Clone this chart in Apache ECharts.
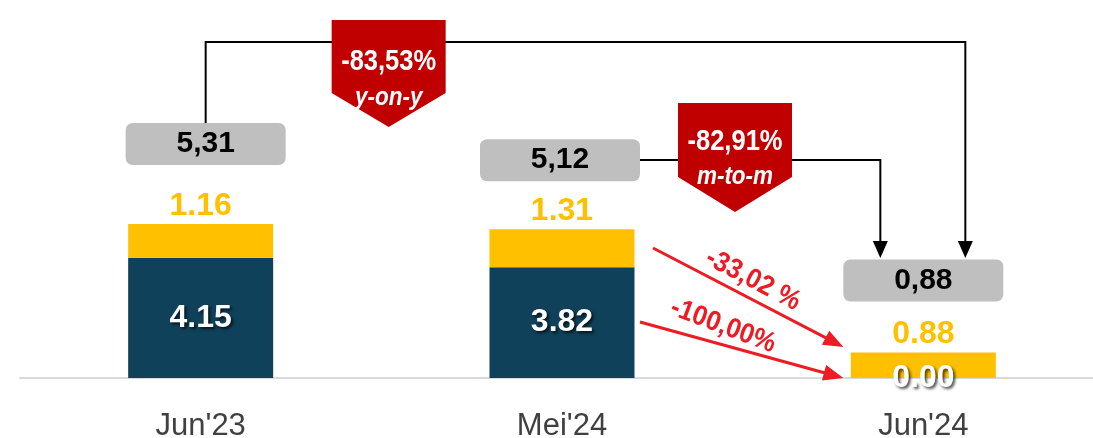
<!DOCTYPE html>
<html>
<head>
<meta charset="utf-8">
<script src="https://cdn.jsdelivr.net/npm/echarts@6/dist/echarts.min.js"></script>
<style>
  html, body { margin: 0; padding: 0; background: #fff; }
  #main { width: 1093px; height: 438px; }
</style>
</head>
<body>
<div id="main"></div>
<script>
// data
var categories = ["Jun'23", "Mei'24", "Jun'24"];
var baseValues = [4.15, 3.82, 0.00];
var topValues = [1.16, 1.31, 0.88];
var totalLabels = ["5,31", "5,12", "0,88"];
var yoyText = ["-83,53%", "y-on-y"];
var momText = ["-82,91%", "m-to-m"];
var changeTopText = "-33,02 %";
var changeBaseText = "-100,00%";

// styles only
var boxShift = [[5, -80], [-2, -69], [0, -72]];
var FONT = "'Liberation Sans', Arial, sans-serif";

var totals = baseValues.map(function (v, i) {
  return +(v + topValues[i]).toFixed(2);
});

var chart = echarts.init(document.getElementById("main"));

var option = {
  animation: false,
  grid: { left: 20, top: 88, width: 1084, height: 290, outerBoundsMode: "none", containLabel: false },
  xAxis: {
    type: "category",
    data: categories,
    axisTick: { show: false },
    axisLine: { lineStyle: { color: "#D9D9D9", width: 2 } },
    axisLabel: {
      color: "#404040",
      fontSize: 31,
      fontFamily: FONT,
      margin: 33
    }
  },
  yAxis: { type: "value", min: 0, max: 10, show: false },
  series: [
    {
      name: "base",
      type: "bar",
      stack: "t",
      barWidth: 145,
      data: baseValues,
      itemStyle: { color: "#10415A" },
      label: {
        show: true,
        position: "inside",
        formatter: function (p) { return p.value.toFixed(2); },
        color: "#fff",
        fontSize: 32,
        fontWeight: "bold",
        fontFamily: FONT,
        textShadowColor: "rgba(0,0,0,0.7)",
        textShadowBlur: 3,
        textShadowOffsetX: 2,
        textShadowOffsetY: 2
      }
    },
    {
      name: "top",
      type: "bar",
      stack: "t",
      barWidth: 145,
      data: topValues,
      itemStyle: { color: "#FFC000" },
      label: {
        show: true,
        position: "top",
        distance: 2,
        formatter: function (p) { return p.value.toFixed(2); },
        color: "#FFC000",
        fontSize: 32,
        fontWeight: "bold",
        fontFamily: FONT
      }
    },
    {
      name: "total",
      type: "scatter",
      symbolSize: 0,
      z: 5,
      itemStyle: { opacity: 1 },
      data: totals.map(function (v, i) {
        return {
          value: [i, v],
          label: {
            show: true,
            position: "inside",
            offset: boxShift[i],
            formatter: totalLabels[i],
            backgroundColor: "#BFBFBF",
            borderRadius: 7,
            width: 160,
            height: 42,
            lineHeight: 42,
            align: "center",
            verticalAlign: "middle",
            color: "#000",
            fontSize: 30,
            fontWeight: "bold",
            fontFamily: FONT
          }
        };
      })
    }
  ]
};

chart.setOption(option);

// annotation shapes anchored on the category positions
var cx = categories.map(function (c, i) {
  return chart.convertToPixel({ gridIndex: 0 }, [i, 0])[0];
});

function head(x1, y1, x2, y2, len, wid, color) {
  var a = Math.atan2(y2 - y1, x2 - x1);
  var bx = x2 - len * Math.cos(a), by = y2 - len * Math.sin(a);
  var nx = -Math.sin(a) * wid / 2, ny = Math.cos(a) * wid / 2;
  return {
    type: "polygon", z: 20,
    shape: { points: [[x2, y2], [bx + nx, by + ny], [bx - nx, by - ny]] },
    style: { fill: color }
  };
}

function arrowLine(x1, y1, x2, y2, color, w, len, wid) {
  var a = Math.atan2(y2 - y1, x2 - x1);
  return [
    { type: "line", z: 20,
      shape: { x1: x1, y1: y1, x2: x2 - (len - 2) * Math.cos(a), y2: y2 - (len - 2) * Math.sin(a) },
      style: { stroke: color, lineWidth: w } },
    head(x1, y1, x2, y2, len, wid, color)
  ];
}

function callout(mx, top, side, tip, halfW) {
  return {
    type: "polygon", z: 30,
    shape: { points: [[mx - halfW, top], [mx + halfW, top], [mx + halfW, side], [mx, tip], [mx - halfW, side]] },
    style: { fill: "#C00000" }
  };
}

function txt(x, y, t, font, color, rot, sx) {
  return {
    type: "text", z: 40, x: x, y: y, rotation: rot || 0, scaleX: sx || 1,
    style: {
      text: t, x: 0, y: 0, font: font, fill: color,
      align: "center", verticalAlign: "middle",
      shadowColor: color === "#fff" ? "rgba(0,0,0,0.55)" : "transparent",
      shadowBlur: 2, shadowOffsetX: 1.5, shadowOffsetY: 1.5
    }
  };
}

var xL = cx[2] - 43, xR = cx[2] + 42;
var yoyX = cx[0] + 188, momX = cx[1] + 173;
var els = [];

// y-on-y connector
els.push({ type: "polyline", z: 20,
  shape: { points: [[cx[0] + 5, 123], [cx[0] + 5, 42], [xR, 42], [xR, 244]] },
  style: { stroke: "#000", lineWidth: 2, fill: null } });
els.push({ type: "polygon", z: 20, shape: { points: [[xR - 7.5, 241], [xR + 7.5, 241], [xR, 258]] }, style: { fill: "#000" } });
// m-to-m connector
els.push({ type: "polyline", z: 20,
  shape: { points: [[cx[1] + 78, 160], [xL, 160], [xL, 244]] },
  style: { stroke: "#000", lineWidth: 2, fill: null } });
els.push({ type: "polygon", z: 20, shape: { points: [[xL - 7.5, 241], [xL + 7.5, 241], [xL, 258]] }, style: { fill: "#000" } });

// callouts
els.push(callout(yoyX, 20, 93, 127, 57));
els.push(txt(yoyX, 62, yoyText[0], "bold 29px " + FONT, "#fff", 0, 0.88));
els.push(txt(yoyX, 98, yoyText[1], "italic bold 25px " + FONT, "#fff", 0, 0.9));
els.push(callout(momX, 103, 177, 212, 57));
els.push(txt(momX, 142, momText[0], "bold 29px " + FONT, "#fff", 0, 0.88));
els.push(txt(momX, 177, momText[1], "italic bold 25px " + FONT, "#fff", 0, 0.9));

// red change arrows
els = els.concat(arrowLine(cx[1] + 91, 248, cx[2] - 80, 347, "#ED1C24", 3, 20, 16));
els = els.concat(arrowLine(cx[1] + 78, 322, cx[2] - 80, 378, "#ED1C24", 3, 20, 16));
els.push(txt(cx[1] + 191, 280, changeTopText, "bold 28px " + FONT, "#ED1C24", -0.48, 0.92));
els.push(txt(cx[1] + 161, 326, changeBaseText, "bold 28px " + FONT, "#ED1C24", -0.36, 0.92));

chart.setOption({ graphic: { elements: els } });
</script>
</body>
</html>
